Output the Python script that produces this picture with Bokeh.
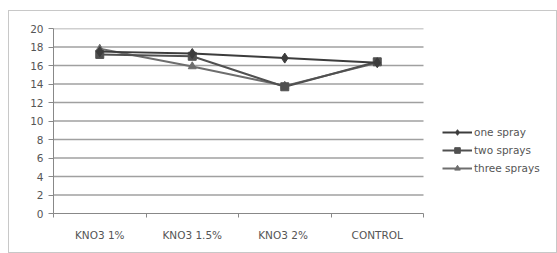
from bokeh.plotting import figure
from bokeh.models import FixedTicker, Legend, LegendItem, Range1d
from bokeh.embed import file_html
from bokeh.resources import INLINE

categories = ["KNO3 1%", "KNO3 1.5%", "KNO3  2%", "CONTROL"]
one_spray = [17.5, 17.3, 16.8, 16.3]
two_sprays = [17.2, 17.0, 13.7, 16.4]
three_sprays = [17.8, 15.9, 13.8, 16.3]
y_ticks = list(range(0, 21, 2))

n = len(categories)
xs = [i + 0.5 for i in range(n)]
FONT = "DejaVu Sans"
FS = "10.5px"

W, H = 549, 243
LEFT, RIGHT, TOP, BOTTOM = 44, 9, 17, 41
CAT_W = 370  # pixel width of the category area
frame_w = W - LEFT - RIGHT
x_end = n * frame_w / CAT_W

p = figure(width=W, height=H, output_backend="svg", toolbar_location=None,
           x_range=Range1d(0, x_end), y_range=Range1d(0, 20),
           min_border_left=LEFT, min_border_right=RIGHT, min_border_top=TOP,
           min_border_bottom=BOTTOM)
p.margin = (10, 0, 0, 8)
p.styles = {"border": "1px solid #c8c8c8", "box-sizing": "border-box"}
p.outline_line_color = None
p.background_fill_color = "white"

# axes
p.xaxis.bounds = (0, n)
p.xaxis.ticker = FixedTicker(ticks=xs, minor_ticks=list(range(n + 1)))
p.xaxis.major_label_overrides = {x: c for x, c in zip(xs, categories)}
p.xaxis.major_tick_out = 0
p.xaxis.major_tick_in = 0
p.xaxis.minor_tick_out = 4
p.xaxis.minor_tick_in = 0
p.xaxis.minor_tick_line_color = "#888888"
p.xaxis.axis_line_color = "#888888"
p.xaxis.major_label_standoff = 11
p.xaxis.major_label_text_font = FONT
p.xaxis.major_label_text_font_size = FS
p.xaxis.major_label_text_color = "#555555"

p.yaxis.ticker = FixedTicker(ticks=y_ticks)
p.yaxis.major_tick_out = 5
p.yaxis.major_tick_in = 0
p.yaxis.minor_tick_line_color = None
p.yaxis.major_tick_line_color = "#888888"
p.yaxis.axis_line_color = "#888888"
p.yaxis.major_label_standoff = 5
p.yaxis.major_label_text_font = FONT
p.yaxis.major_label_text_font_size = FS
p.yaxis.major_label_text_color = "#555555"

p.xgrid.grid_line_color = None
p.ygrid.grid_line_color = None
gy = y_ticks[1:]
p.segment(x0=[0] * len(gy), x1=[n] * len(gy), y0=gy, y1=gy,
          line_color="#a0a0a0", line_width=1.5)

series = [
    ("one spray", one_spray, "diamond", "#3c3c3c", 10),
    ("two sprays", two_sprays, "square", "#505050", 8),
    ("three sprays", three_sprays, "triangle", "#6e6e6e", 8),
]
items = []
for name, vals, marker, color, size in reversed(series):
    l = p.line(xs, vals, line_color=color, line_width=2)
    s = p.scatter(xs, vals, marker=marker, size=size, fill_color=color, line_color=color)
    items.append(LegendItem(label=name, renderers=[l, s]))
items.reverse()

legend = Legend(items=items, location=(389, 38), border_line_color=None,
                background_fill_alpha=0, padding=0, margin=0, spacing=4,
                glyph_width=30, glyph_height=14, label_height=14,
                label_standoff=2, label_text_font=FONT, label_text_font_size=FS,
                label_text_color="#555555")
p.add_layout(legend, "center")

open("out.html", "w").write(file_html(p, INLINE))
